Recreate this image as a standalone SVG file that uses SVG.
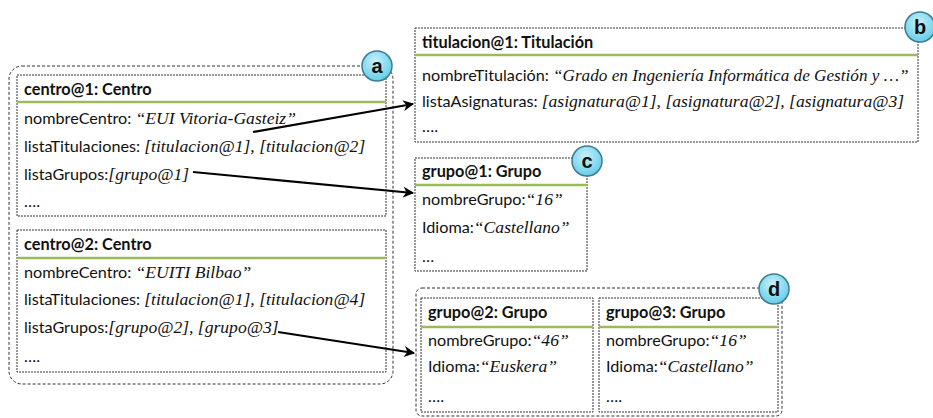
<svg xmlns="http://www.w3.org/2000/svg" width="933" height="418" viewBox="0 0 933 418">
  <style>
    .bg { fill: #ffffff; }
    .group { fill: none; stroke: #333; stroke-width: 1; stroke-dasharray: 3 2; }
    .box { fill: #ffffff; stroke: #333; stroke-width: 1; stroke-dasharray: 2 1; }
    .sep { stroke: #9bbb59; stroke-width: 2.5; }
    .title { font-family: Lato, "Liberation Sans", sans-serif; font-weight: bold; font-size: 16.3px; fill: #111; }
    .attr { font-family: Lato, "Liberation Sans", sans-serif; font-size: 16.2px; fill: #111; }
    .val { font-family: "Liberation Serif", serif; font-style: italic; font-size: 17.6px; }
    .badge { fill: url(#badgeFill); stroke: #3b7d90; stroke-width: 1.5; }
    .badgeText { font-family: "Liberation Sans", sans-serif; font-weight: bold; font-size: 20px; fill: #111; text-anchor: middle; }
    .conn { fill: none; stroke: #000; stroke-width: 2.2; }
  </style>
  <defs>
    <radialGradient id="badgeFill" cx="0.45" cy="0.35" r="0.7">
      <stop offset="0" stop-color="#c9f1fb"/>
      <stop offset="1" stop-color="#5ccbe8"/>
    </radialGradient>
    <marker id="arrow" viewBox="0 0 10 10" refX="9" refY="5" markerWidth="5" markerHeight="5" orient="auto" markerUnits="strokeWidth">
      <path d="M0,0 L10,5 L0,10 L3,5 z" fill="#000"/>
    </marker>
  </defs>

  <rect class="bg" x="0" y="0" width="933" height="418"/>

  <!-- centre group (a) -->
  <g id="group-a">
    <rect class="group" x="9" y="66" width="384" height="318" rx="13" ry="13"/>
  </g>

  <g id="centro1">
    <rect class="box" x="17" y="75" width="369" height="141"/>
    <text class="title" x="24" y="95">centro@1: Centro</text>
    <line class="sep" x1="17" y1="102" x2="386" y2="102"/>
    <text class="attr" x="24" y="124">nombreCentro: <tspan class="val">“EUI Vitoria-Gasteiz”</tspan></text>
    <text class="attr" x="24" y="152">listaTitulaciones: <tspan class="val">[titulacion@1], [titulacion@2]</tspan></text>
    <text class="attr" x="24" y="180">listaGrupos:<tspan class="val">[grupo@1]</tspan></text>
    <text class="attr" x="24" y="207">….</text>
  </g>

  <g id="centro2">
    <rect class="box" x="17" y="230" width="369" height="142"/>
    <text class="title" x="24" y="250">centro@2: Centro</text>
    <line class="sep" x1="17" y1="258" x2="386" y2="258"/>
    <text class="attr" x="24" y="278">nombreCentro: <tspan class="val">“EUITI Bilbao”</tspan></text>
    <text class="attr" x="24" y="305">listaTitulaciones: <tspan class="val">[titulacion@1], [titulacion@4]</tspan></text>
    <text class="attr" x="24" y="333">listaGrupos:<tspan class="val">[grupo@2], [grupo@3]</tspan></text>
    <text class="attr" x="24" y="362">….</text>
  </g>

  <g id="badge-a">
    <circle class="badge" cx="377" cy="66" r="15"/>
    <text class="badgeText" x="377" y="73">a</text>
  </g>

  <!-- titulacion (b) -->
  <g id="titulacion1">
    <rect class="box" x="415" y="28" width="503" height="114"/>
    <text class="title" x="422" y="48">titulacion@1: Titulación</text>
    <line class="sep" x1="415" y1="55" x2="918" y2="55"/>
    <text class="attr" x="422" y="81">nombreTitulación: <tspan class="val" style="font-size:17.2px">“Grado en Ingeniería Informática de Gestión y …”</tspan></text>
    <text class="attr" x="422" y="107">listaAsignaturas: <tspan class="val">[asignatura@1], [asignatura@2], [asignatura@3]</tspan></text>
    <text class="attr" x="422" y="132">….</text>
  </g>

  <g id="badge-b">
    <circle class="badge" cx="920" cy="27" r="15"/>
    <text class="badgeText" x="920" y="34">b</text>
  </g>

  <!-- grupo@1 (c) -->
  <g id="grupo1">
    <rect class="box" x="415" y="158" width="172" height="113"/>
    <text class="title" x="422" y="177">grupo@1: Grupo</text>
    <line class="sep" x1="415" y1="185" x2="587" y2="185"/>
    <text class="attr" x="422" y="205">nombreGrupo:<tspan class="val">“16”</tspan></text>
    <text class="attr" x="422" y="233">Idioma:<tspan class="val">“Castellano”</tspan></text>
    <text class="attr" x="422" y="262">…</text>
  </g>

  <g id="badge-c">
    <circle class="badge" cx="587" cy="161" r="15"/>
    <text class="badgeText" x="587" y="168">c</text>
  </g>

  <!-- grupos (d) -->
  <g id="group-d">
    <rect class="group" x="416" y="288" width="366" height="128" rx="6" ry="6"/>
  </g>

  <g id="grupo2">
    <rect class="box" x="421" y="298" width="172" height="114"/>
    <text class="title" x="428" y="318">grupo@2: Grupo</text>
    <line class="sep" x1="421" y1="327" x2="593" y2="327"/>
    <text class="attr" x="428" y="346">nombreGrupo:<tspan class="val">“46”</tspan></text>
    <text class="attr" x="428" y="372">Idioma:<tspan class="val">“Euskera”</tspan></text>
    <text class="attr" x="428" y="402">….</text>
  </g>

  <g id="grupo3">
    <rect class="box" x="599" y="298" width="179" height="114"/>
    <text class="title" x="606" y="318">grupo@3: Grupo</text>
    <line class="sep" x1="599" y1="327" x2="778" y2="327"/>
    <text class="attr" x="606" y="346">nombreGrupo:<tspan class="val">“16”</tspan></text>
    <text class="attr" x="606" y="372">Idioma:<tspan class="val">“Castellano”</tspan></text>
    <text class="attr" x="606" y="402">….</text>
  </g>

  <g id="badge-d">
    <circle class="badge" cx="774" cy="289" r="15"/>
    <text class="badgeText" x="774" y="296">d</text>
  </g>

  <!-- references between objects -->
  <g id="connectors">
    <line class="conn" x1="253" y1="132" x2="413" y2="104" marker-end="url(#arrow)"/>
    <line class="conn" x1="193" y1="172" x2="413" y2="193" marker-end="url(#arrow)"/>
    <line class="conn" x1="278" y1="332" x2="414" y2="353" marker-end="url(#arrow)"/>
  </g>
</svg>
